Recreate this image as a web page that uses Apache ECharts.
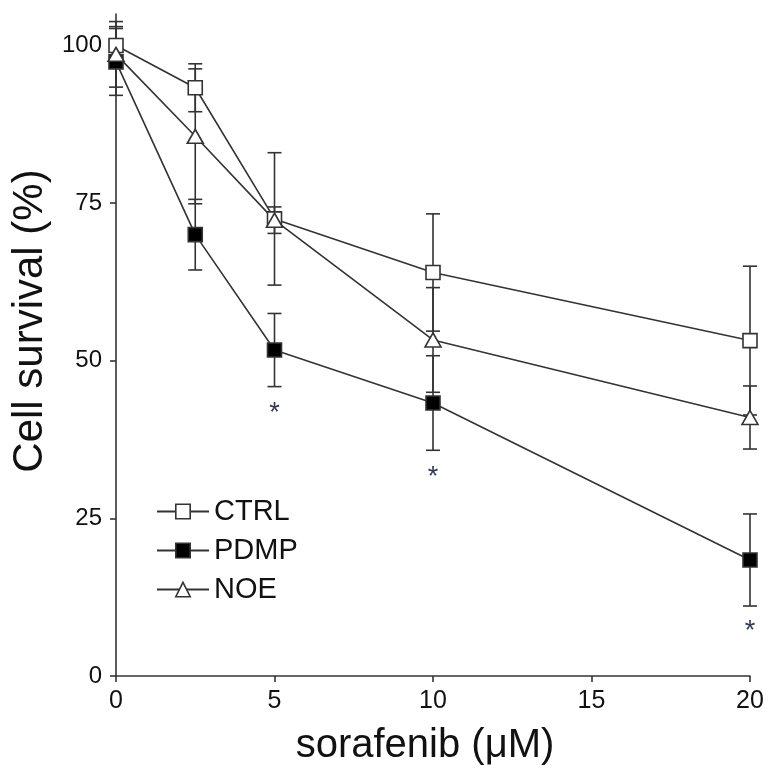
<!DOCTYPE html>
<html>
<head>
<meta charset="utf-8">
<script src="https://cdn.jsdelivr.net/npm/echarts@6/dist/echarts.min.js"></script>
<style>html,body{margin:0;padding:0;background:#fff}#c{width:768px;height:778px}</style>
</head>
<body>
<div id="c"></div>
<script>
// ---- data ----
var doses = [0, 2.5, 5, 10, 20];
var ctrlMean = [100, 93.3, 72.5, 64, 53.2];
var ctrlErr  = [3, 3.8, 10.5, 9.3, 11.8];
var pdmpMean = [97.4, 70, 51.7, 43.3, 18.4];
var pdmpErr  = [5.3, 5.6, 5.8, 7.5, 7.3];
var noeMean  = [98.6, 85.6, 72.3, 53.3, 41];
var noeErr   = [5.2, 10.7, 2.1, 8.3, 5];
var starDoses = [5, 10, 20];
var starY     = [42.5, 32.2, 7.8];
var xTicks = [0, 5, 10, 15, 20];
var yTicks = [0, 25, 50, 75, 100];

var FONT = 'Liberation Sans, Arial, sans-serif';
var INK = '#333333';

function pts(mean) { return doses.map(function (d, i) { return [d, mean[i]]; }); }
function errs(mean, err) { return doses.map(function (d, i) { return [d, mean[i] - err[i], mean[i] + err[i]]; }); }

function errRender(params, api) {
  var x = api.value(0), lo = api.value(1), hi = api.value(2);
  var t = api.coord([x, hi]), b = api.coord([x, lo]);
  var h = 7;
  var st = { stroke: INK, lineWidth: 1.6 };
  return { type: 'group', children: [
    { type: 'line', shape: { x1: t[0], y1: t[1], x2: b[0], y2: b[1] }, style: st },
    { type: 'line', shape: { x1: t[0] - h, y1: t[1], x2: t[0] + h, y2: t[1] }, style: st },
    { type: 'line', shape: { x1: b[0] - h, y1: b[1], x2: b[0] + h, y2: b[1] }, style: st }
  ]};
}

function lineSeries(name, mean, symbol, fill, size) {
  return {
    name: name, type: 'line', data: pts(mean), z: 5,
    symbol: symbol, symbolSize: size, showAllSymbol: true,
    lineStyle: { color: INK, width: 1.6 },
    itemStyle: { color: fill, borderColor: INK, borderWidth: 1.6 },
    emphasis: { disabled: true }
  };
}
function errSeries(mean, err) {
  return { type: 'custom', data: errs(mean, err), renderItem: errRender, z: 2, silent: true };
}

var chart = echarts.init(document.getElementById('c'), null, { renderer: 'canvas' });
chart.setOption({
  animation: false,
  backgroundColor: '#ffffff',
  grid: { left: 116, right: 18, top: 14, bottom: 102 },
  legend: {
    orient: 'vertical', left: 151, top: 492, itemGap: 10,
    itemWidth: 52, itemHeight: 18, itemStyle: { borderWidth: 1.6 },
    textStyle: { fontFamily: FONT, fontSize: 29, color: '#111' },
    data: ['CTRL', 'PDMP', 'NOE']
  },
  xAxis: {
    type: 'value', min: 0, max: 20, interval: 5,
    splitLine: { show: false },
    axisLine: { lineStyle: { color: INK, width: 1.6 } },
    axisTick: { show: true, length: 6, lineStyle: { color: INK, width: 1.6 }, customValues: xTicks },
    axisLabel: { fontFamily: FONT, fontSize: 25, color: '#111', margin: 13, customValues: xTicks },
    name: 'sorafenib (\u03bcM)', nameLocation: 'middle', nameGap: 50,
    nameTextStyle: { fontFamily: FONT, fontSize: 40, color: '#111', padding: [0, 16, 0, 0] }
  },
  yAxis: {
    type: 'value', min: 0, max: 105, interval: 25,
    splitLine: { show: false },
    axisLine: { lineStyle: { color: INK, width: 1.6 } },
    axisTick: { show: true, length: 6, lineStyle: { color: INK, width: 1.6 }, customValues: yTicks },
    axisLabel: { fontFamily: FONT, fontSize: 24, color: '#111', margin: 14, customValues: yTicks },
    name: 'Cell survival (%)', nameLocation: 'middle', nameGap: 62,
    nameTextStyle: { fontFamily: FONT, fontSize: 42, color: '#111', padding: [0, 0, 0, 48] }
  },
  series: [
    errSeries(ctrlMean, ctrlErr),
    errSeries(pdmpMean, pdmpErr),
    errSeries(noeMean, noeErr),
    lineSeries('CTRL', ctrlMean, 'rect', '#ffffff', 14),
    lineSeries('PDMP', pdmpMean, 'rect', '#000000', 14),
    lineSeries('NOE', noeMean, 'triangle', '#ffffff', [16, 14]),
    {
      type: 'custom', silent: true, z: 6,
      data: starDoses.map(function (d, i) { return [d, starY[i]]; }),
      renderItem: function (params, api) {
        var p = api.coord([api.value(0), api.value(1)]);
        return { type: 'text', x: p[0], y: p[1] + 5, style: { text: '*', fontFamily: FONT, fontSize: 27, fill: '#353a52', align: 'center', verticalAlign: 'middle' } };
      }
    }
  ]
});
</script>
</body>
</html>
